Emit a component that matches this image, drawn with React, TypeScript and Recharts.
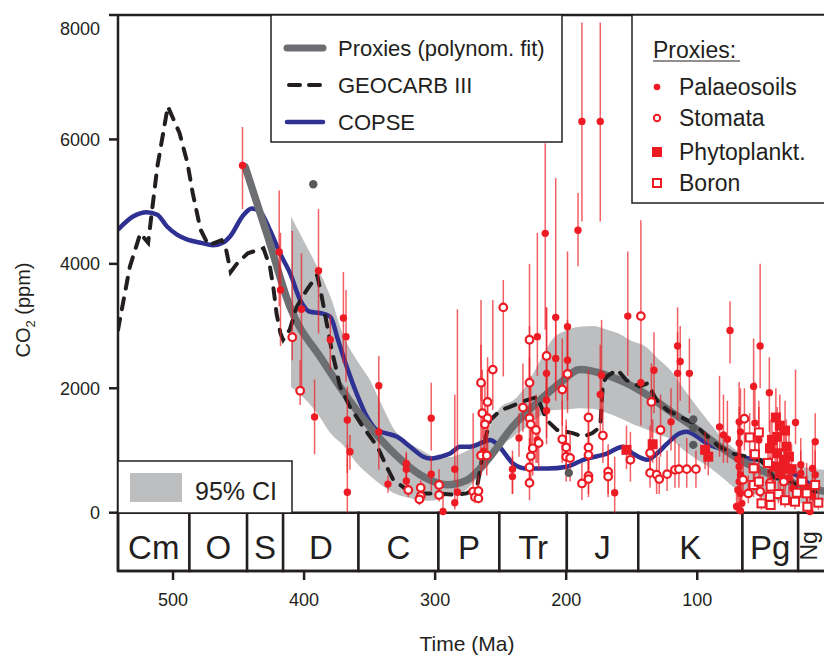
import React from "react";
import {
  ComposedChart,
  Line,
  Area,
  Scatter,
  ErrorBar,
  XAxis,
  YAxis,
  ReferenceArea,
  ReferenceLine,
} from "recharts";

const ink = "#231f20";
const red = "#ed1c24";
const blue = "#2e3192";
const fitGrey = "#6d6e71";
const ciGrey = "#bcbec0";
const font = '"Liberation Sans", Arial, sans-serif';

// time (Ma), CO2 (ppm)
const geocarb: [number, number][] = [
  [542, 2940], [533, 3950], [525, 4490], [519, 4340], [512, 5560], [504, 6530], [495, 6100],
  [489, 5620], [485, 5140], [479, 4550], [473, 4300], [463, 4380], [460, 4280], [456, 3870],
  [451, 4010], [443, 4170], [431, 4250], [426, 3950], [423.5, 3630], [421, 3200], [418, 2880],
  [416, 2780], [411, 2940], [405.6, 3310], [398, 3580], [390, 3820], [386.5, 3470], [382.7, 3040],
  [379, 2620], [376, 2350], [372.6, 2030], [365, 1700], [355, 1380], [344, 1060], [337, 740],
  [332, 530], [321, 360], [311, 310], [299, 310], [286, 290], [276, 310], [268, 410], [264, 900],
  [262, 1170], [258, 1490], [250, 1650], [243, 1700], [233, 1790], [222, 1860], [215, 1490],
  [207, 1330], [195, 1280], [187, 1220], [180, 1280], [174, 1380], [172, 2080], [169, 2190],
  [161, 2300], [154, 2130], [144, 2030], [138, 2080], [131, 1810], [123, 1650], [113, 1540],
  [103, 1440], [92, 1220], [83, 1060], [73, 950], [62, 900], [52, 850], [47, 740], [42, 570],
  [31, 530], [22, 420], [10, 330],
];

const copse: [number, number][] = [
  [542, 4550], [530.5, 4760], [520, 4830], [512, 4790], [504.6, 4600], [497, 4470], [489, 4390],
  [479, 4340], [469.5, 4300], [462, 4340], [456.5, 4440], [446.4, 4780], [440, 4890], [433.6, 4840],
  [426, 4540], [418.4, 4170], [410.7, 3850], [403, 3420], [395.5, 3230], [387.8, 3210], [380, 3150],
  [374, 2770], [367.5, 2350], [360, 1920], [352, 1540], [344.6, 1330], [338, 1280], [329, 1220],
  [319, 1060], [309, 900], [304, 870], [296, 900], [288.6, 950], [281, 1060], [273.4, 1060],
  [266, 1110], [258, 1170], [253, 1110], [245, 900], [240.6, 790], [230, 710], [214.6, 710],
  [199.4, 740], [187, 850], [169, 950], [156.7, 1060], [149, 950], [138, 850], [130.7, 950],
  [123, 1110], [113, 1280], [107.8, 1300], [100, 1220], [92.5, 1110], [80, 1010], [67, 900],
  [54, 850], [42, 790], [21.6, 570], [6.4, 360], [0, 330],
];

const proxyFit: [number, number][] = [
  [445, 5560], [428, 4460], [411, 3320], [386, 2450], [360, 1650], [334, 1010], [309, 580],
  [291, 450], [276, 520], [260, 850], [241, 1380], [220, 1810], [205, 2080], [189.5, 2300],
  [169, 2210], [144, 1970], [118.5, 1600], [103, 1380], [82.6, 1060], [67.4, 850], [46.8, 640],
  [27, 480], [6.4, 360], [0, 330],
];

// time, lower 95%, upper 95%
const ci95: [number, number, number][] = [
  [410, 2020, 4760], [400, 1840, 4360], [390, 1600, 3950], [380, 1280, 3480], [370, 1080, 2850],
  [360, 800, 2460], [350, 600, 2140], [340, 430, 1700], [330, 300, 1300], [320, 240, 1120],
  [310, 190, 1000], [300, 200, 900], [290, 280, 890], [280, 320, 950], [270, 500, 1080],
  [260, 760, 1330], [250, 1050, 1700], [240, 1230, 1810], [230, 1380, 2060], [220, 1550, 2440],
  [210, 1650, 2800], [200, 1660, 2930], [190, 1680, 2990], [180, 1670, 3000], [170, 1610, 2950],
  [160, 1530, 2880], [150, 1430, 2760], [140, 1350, 2680], [130, 1260, 2480], [120, 1180, 2280],
  [110, 1000, 1980], [100, 850, 1700], [90, 720, 1430], [80, 550, 1180], [70, 380, 1000],
  [60, 330, 880], [50, 240, 820], [40, 200, 780], [30, 160, 750], [20, 150, 740], [10, 180, 700],
  [0, 200, 690],
];

// proxies: time, CO2, lower bound, upper bound
const palaeosoils: [number, number, number, number][] = [
  [447, 5580, 4880, 6200], [419, 4190, 3320, 5180], [418, 3580, 2680, 4500], [402, 3270, 1970, 4170],
  [389, 3890, 2880, 4880], [380, 2780, 2300, 3180], [370, 3130, 2400, 3870], [368, 2830, 2100, 3580],
  [392, 1540, 940, 2140], [367, 1490, 640, 2030], [367, 330, 0, 1100], [365, 980, 690, 1250],
  [343, 2040, 1320, 2520], [343, 1300, 690, 2030], [336, 460, 320, 600], [322, 790, 530, 980],
  [322, 700, 450, 950], [322, 510, 300, 750], [303, 1520, 1000, 2090], [303, 620, 350, 900],
  [294, 20, 0, 300], [285, 700, 500, 1900], [283, 330, 200, 3270], [285, 160, 50, 400],
  [263, 990, 700, 1500], [236, 1200, 900, 1600], [241, 700, 300, 1000], [241, 580, 300, 900],
  [222, 2830, 2200, 4500], [222, 1170, 800, 1700], [215, 2240, 1500, 3300], [215, 1810, 1200, 2600],
  [215, 1640, 1100, 2300], [208, 3140, 2000, 5380], [208, 2480, 1800, 3100], [216, 4490, 2940, 5940],
  [199, 2990, 2300, 4200], [199, 2450, 1800, 3100], [188, 6290, 4680, 7880], [174, 6290, 4680, 7880],
  [191, 4540, 3960, 5140], [173, 2210, 1500, 3100], [174, 1900, 1300, 2700], [163, 320, 0, 900],
  [153, 3160, 2200, 4200], [143, 2090, 1400, 2600], [133, 2290, 1600, 2900], [120, 1460, 1000, 2000],
  [115, 2680, 2200, 3300], [113, 2430, 1800, 3000], [115, 2240, 1500, 2900], [106, 2240, 1600, 2800],
  [75, 2930, 2400, 3400], [52, 2680, 2000, 4000], [57, 2030, 1500, 2800], [45, 1930, 1300, 2500],
  [83, 1380, 900, 2200], [80, 1250, 800, 1900], [77, 1180, 800, 1800], [68, 1460, 900, 2100],
  [67, 1300, 800, 2000], [68, 1120, 700, 1700], [69, 860, 500, 1500], [68, 740, 400, 1300],
  [67, 610, 300, 1100], [68, 500, 200, 900], [69, 365, 100, 800], [67, 310, 100, 700],
  [66, 150, 0, 500], [56, 1440, 900, 2100], [53, 1170, 700, 1800], [25, 1450, 1100, 2300],
  [10, 1140, 700, 1600], [21, 770, 400, 1200], [12, 710, 400, 1100], [10, 610, 300, 1000],
  [21, 630, 300, 1000], [16.5, 420, 150, 800], [12, 260, 50, 600], [16.5, 100, 0, 400],
  [14, 20, 0, 300], [70, 100, 0, 400], [67, 30, 0, 300], [30, 560, 250, 900], [27, 390, 150, 700],
];

const stomata: [number, number, number, number][] = [
  [409, 2820, 2450, 4530], [403, 1960, 1730, 2450], [320.5, 365, 250, 500], [311, 400, 300, 520],
  [311, 270, 180, 400], [312, 215, 120, 330], [297, 445, 250, 700], [297, 285, 180, 400],
  [271, 340, 200, 1600], [269.6, 250, 150, 400], [267, 230, 150, 350], [267, 350, 250, 600],
  [265, 2090, 1800, 3420], [256, 2300, 1650, 3420], [248, 3300, 2190, 3740], [260, 1780, 1300, 2500],
  [264, 1600, 1200, 2300], [260, 1520, 1000, 2300], [262, 1420, 1000, 2100], [265, 920, 600, 2700],
  [260.6, 920, 600, 1300], [233, 1690, 1300, 2400], [228, 2780, 2000, 4000], [228, 2090, 1500, 3000],
  [228, 1520, 1000, 2500], [227, 1420, 900, 2200], [223, 1330, 800, 1900], [221, 1120, 700, 1700],
  [225.5, 1035, 600, 1600], [227, 910, 500, 1500], [228, 730, 400, 1200], [228, 480, 200, 900],
  [215, 2520, 1800, 3300], [203, 1980, 1400, 2800], [199, 2230, 1600, 3000], [203, 1180, 800, 1800],
  [200, 1050, 700, 1500], [200, 900, 500, 1400], [197, 880, 500, 1300], [183, 1530, 1000, 2300],
  [183, 1050, 700, 1500], [183, 930, 600, 1300], [183, 590, 300, 1000], [183, 540, 250, 900],
  [188, 470, 200, 800], [172, 1240, 800, 1900], [168, 660, 300, 1100], [168, 580, 250, 1000],
  [143, 3160, 2600, 4700], [151, 850, 500, 1300], [135, 1780, 1200, 2400], [128, 1330, 900, 1900],
  [136, 960, 600, 1400], [136, 640, 400, 1200], [131, 610, 300, 1000], [129, 540, 300, 900],
  [123, 620, 350, 1000], [117, 690, 400, 1200], [114, 700, 400, 1100], [108, 700, 400, 1200],
  [101, 700, 400, 1000], [64, 1510, 1000, 2000], [65, 530, 300, 900], [61, 310, 150, 600],
  [52, 340, 150, 700], [44.5, 480, 250, 900], [43, 320, 150, 600], [34, 500, 250, 900],
];

const phytoplankton: [number, number, number, number][] = [
  [154, 1010, 700, 1400], [134, 1100, 800, 1500], [94, 1010, 700, 1300], [91.6, 900, 600, 1200],
  [40, 1530, 1100, 2000], [33, 1320, 900, 1800], [39, 1220, 800, 1700], [32, 1060, 700, 1500],
  [39, 955, 600, 1400], [34, 850, 500, 1300], [40.5, 740, 400, 1200], [32.6, 714, 400, 1100],
  [36.5, 630, 350, 1000], [43, 1170, 800, 1600], [44.5, 1035, 700, 1500], [37, 1400, 1000, 1900],
  [30, 900, 600, 1300], [28, 700, 400, 1100],
];

const boron: [number, number, number, number][] = [
  [60, 1210, 900, 1600], [53, 1290, 900, 1700], [56, 940, 600, 1300], [57, 714, 400, 1000],
  [46, 800, 500, 1200], [57, 445, 250, 700], [53, 500, 300, 800], [44, 420, 200, 700],
  [51, 150, 50, 300], [44.5, 257, 100, 500], [44, 124, 50, 300], [20, 500, 300, 800],
  [10, 445, 250, 700], [24, 321, 150, 600], [16.5, 312, 150, 600], [25.4, 177, 50, 400],
  [7.6, 161, 50, 400], [16, 96, 20, 300], [38, 300, 150, 500], [33, 200, 80, 400],
];

const excluded: [number, number][] = [
  [393, 5280], [198, 640], [103, 1500], [103, 1360], [103, 1090],
];

// geological periods: name, start (Ma), end (Ma)
const periods: [string, number, number][] = [
  ["Cm", 542, 487.5], ["O", 487.5, 443.5], ["S", 443.5, 416], ["D", 416, 358.5],
  ["C", 358.5, 297.5], ["P", 297.5, 251], ["Tr", 251, 199.5], ["J", 199.5, 145],
  ["K", 145, 65.5], ["Pg", 65.5, 23], ["Ng", 23, -1],
];

const xTicks = [500, 400, 300, 200, 100];
const yTicks = [0, 2000, 4000, 6000, 8000];

const toLine = (arr: [number, number][]) => arr.map(([t, v]) => ({ t, v }));
const toProxy = (arr: [number, number, number, number][]) =>
  arr.map(([t, v, lo, hi]) => ({ t, v, err: [v - lo, hi - v] }));

const FilledDot = (p: any) => <circle cx={p.cx} cy={p.cy} r={3.7} fill={red} />;
const OpenDot = (p: any) => (
  <circle cx={p.cx} cy={p.cy} r={3.8} fill="#fff" stroke={red} strokeWidth={2.2} />
);
const FilledSquare = (p: any) => (
  <rect x={p.cx - 5} y={p.cy - 5} width={10} height={10} fill={red} />
);
const OpenSquare = (p: any) => (
  <rect x={p.cx - 4} y={p.cy - 4} width={8} height={8} fill="#fff" stroke={red} strokeWidth={2} />
);
const GreyDot = (p: any) => <circle cx={p.cx} cy={p.cy} r={4.2} fill="#58595b" />;

const YTick = ({ x, y, payload }: any) => (
  <text
    x={x}
    y={y + (payload.value === 8000 ? 14 : 0)}
    dy="0.355em"
    textAnchor="end"
    fontSize={18}
    fill={ink}
    fontFamily={font}
  >
    {payload.value}
  </text>
);

const periodLabel = (name: string) => (props: any) => {
  const vb = props.viewBox;
  const cx = vb.x + vb.width / 2;
  const cy = vb.y + vb.height / 2;
  if (name === "Ng") {
    return (
      <text
        x={0}
        y={0}
        transform={`translate(817, ${cy + 4}) rotate(-90)`}
        textAnchor="middle"
        fontSize={23}
        fill={ink}
        fontFamily={font}
      >
        {name}
      </text>
    );
  }
  return (
    <text x={cx} y={cy + 17} textAnchor="middle" fontSize={33} fill={ink} fontFamily={font}>
      {name}
    </text>
  );
};

const Legends = () => (
  <svg
    width={824}
    height={655}
    style={{ position: "absolute", left: 0, top: 0, pointerEvents: "none" }}
    fontFamily={font}
  >
    <rect x={271} y={15} width={291} height={127} fill="#fff" stroke={ink} strokeWidth={1.5} />
    <line x1={287} x2={323} y1={48} y2={48} stroke={fitGrey} strokeWidth={7} strokeLinecap="round" />
    <line x1={289} x2={323} y1={85} y2={85} stroke={ink} strokeWidth={4} strokeDasharray="11 9" strokeLinecap="round" />
    <line x1={287} x2={323} y1={122} y2={122} stroke={blue} strokeWidth={4.5} strokeLinecap="round" />
    <text x={338} y={56} fontSize={22} fill={ink}>Proxies (polynom. fit)</text>
    <text x={338} y={93} fontSize={22} fill={ink}>GEOCARB III</text>
    <text x={338} y={130} fontSize={22} fill={ink}>COPSE</text>

    <rect x={632} y={15} width={200} height={188} fill="#fff" stroke={ink} strokeWidth={1.5} />
    <text x={653} y={58} fontSize={23} fill={ink}>Proxies:</text>
    <line x1={653} x2={740} y1={61} y2={61} stroke={ink} strokeWidth={1.2} />
    <circle cx={657} cy={87} r={3.3} fill={red} />
    <circle cx={657} cy={118} r={3.2} fill="#fff" stroke={red} strokeWidth={2} />
    <rect x={652} y={147} width={10} height={10} fill={red} />
    <rect x={653} y={179} width={8} height={8} fill="#fff" stroke={red} strokeWidth={2} />
    <text x={679} y={95} fontSize={23} fill={ink}>Palaeosoils</text>
    <text x={679} y={126} fontSize={23} fill={ink}>Stomata</text>
    <text x={679} y={160} fontSize={23} fill={ink}>Phytoplankt.</text>
    <text x={679} y={191} fontSize={23} fill={ink}>Boron</text>

    <rect x={118} y={461} width={174} height={52} fill="#fff" stroke={ink} strokeWidth={1.5} />
    <rect x={130} y={473} width={52} height={29} fill={ciGrey} />
    <text x={195} y={500} fontSize={25} fill={ink}>95% CI</text>
  </svg>
);

export default function App() {
  const bandData = ci95.map(([t, lo, hi]) => ({ t, band: [lo, hi] }));
  const errorBars = (
    <ErrorBar
      dataKey="err"
      direction="y"
      width={0}
      stroke={red}
      strokeOpacity={0.7}
      strokeWidth={1.5}
    />
  );

  return (
    <div
      style={{
        position: "absolute",
        left: 0,
        top: 0,
        width: 824,
        height: 655,
        overflow: "hidden",
        background: "#fff",
        fontFamily: font,
      }}
    >
      <ComposedChart width={830} height={655} margin={{ top: 15, right: 0, bottom: 0, left: 0 }}>
        <XAxis
          dataKey="t"
          type="number"
          domain={[-1.3, 542]}
          reversed
          allowDataOverflow
          ticks={xTicks}
          height={84}
          tickSize={9}
          tickMargin={13}
          axisLine={{ stroke: ink, strokeWidth: 2.5 }}
          tickLine={{ stroke: ink, strokeWidth: 2.5 }}
          tick={{ fontSize: 18, fill: ink, fontFamily: font }}
          label={(props: any) => {
            const vb = props.viewBox;
            return (
              <text
                x={vb.x + vb.width / 2 - 7}
                y={vb.y + 80}
                textAnchor="middle"
                fontSize={21}
                fill={ink}
                fontFamily={font}
              >
                Time (Ma)
              </text>
            );
          }}
        />
        <YAxis
          type="number"
          domain={[-937, 8000]}
          allowDataOverflow
          ticks={yTicks}
          width={118}
          tickSize={9}
          tickMargin={9}
          axisLine={{ stroke: ink, strokeWidth: 2.5 }}
          tickLine={{ stroke: ink, strokeWidth: 2.5 }}
          tick={<YTick />}
          label={() => (
            <text
              x={30}
              y={310}
              transform="rotate(-90, 30, 310)"
              textAnchor="middle"
              fontSize={20}
              fill={ink}
              fontFamily={font}
            >
              CO
              <tspan fontSize={13} dy={5}>2</tspan>
              <tspan dy={-5}> (ppm)</tspan>
            </text>
          )}
        />

        {periods.map(([name, a, b]) => (
          <ReferenceArea
            key={name}
            x1={a}
            x2={b}
            y1={-937}
            y2={0}
            ifOverflow="visible"
            fill="#fff"
            fillOpacity={1}
            stroke={ink}
            strokeWidth={2.5}
            label={periodLabel(name)}
          />
        ))}
        <ReferenceLine y={8000} stroke={ink} strokeWidth={2.5} ifOverflow="visible" />

        <Area
          data={bandData}
          dataKey="band"
          type="monotone"
          stroke="none"
          fill={ciGrey}
          fillOpacity={1}
          isAnimationActive={false}
        />
        <Line
          data={toLine(copse)}
          dataKey="v"
          type="monotone"
          stroke={blue}
          strokeWidth={4.5}
          dot={false}
          isAnimationActive={false}
        />
        <Line
          data={toLine(proxyFit)}
          dataKey="v"
          type="monotone"
          stroke={fitGrey}
          strokeWidth={7.5}
          strokeLinecap="round"
          dot={false}
          isAnimationActive={false}
        />
        <Line
          data={toLine(geocarb)}
          dataKey="v"
          type="linear"
          stroke={ink}
          strokeWidth={4}
          strokeDasharray="11 10"
          strokeLinecap="round"
          dot={false}
          isAnimationActive={false}
        />

        <Scatter data={toProxy(palaeosoils)} dataKey="v" shape={FilledDot} isAnimationActive={false}>
          {errorBars}
        </Scatter>
        <Scatter data={toProxy(stomata)} dataKey="v" shape={OpenDot} isAnimationActive={false}>
          {errorBars}
        </Scatter>
        <Scatter data={toProxy(phytoplankton)} dataKey="v" shape={FilledSquare} isAnimationActive={false}>
          {errorBars}
        </Scatter>
        <Scatter data={toProxy(boron)} dataKey="v" shape={OpenSquare} isAnimationActive={false}>
          {errorBars}
        </Scatter>
        <Scatter data={toLine(excluded)} dataKey="v" shape={GreyDot} isAnimationActive={false} />
      </ComposedChart>
      <Legends />
    </div>
  );
}
